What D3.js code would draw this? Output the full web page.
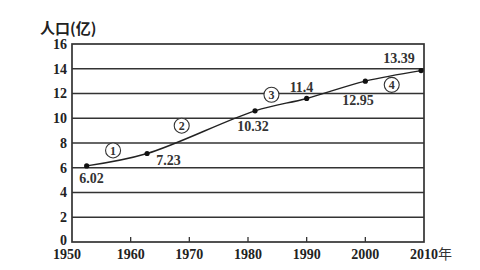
<!DOCTYPE html>
<html><head><meta charset="utf-8">
<script src="https://cdn.jsdelivr.net/npm/d3@7"></script>
<style>body{margin:0;background:#fff}svg{display:block}</style>
</head><body>
<svg id="c" width="480" height="270"></svg>
<script>
const years = [1952.5, 1962.8, 1981.2, 1990, 2000, 2009.5];
const values = [6.15, 7.15, 10.6, 11.6, 13.0, 13.85];
const labels = ["6.02", "7.23", "10.32", "11.4", "12.95", "13.39"];
const yTicks = [0, 2, 4, 6, 8, 10, 12, 14, 16];
const xTicks = [1950, 1960, 1970, 1980, 1990, 2000, 2010];
const stages = ["①", "②", "③", "④"];
const stageYears = [1957, 1968.7, 1984, 2004.5];
const stageVals = [7.4, 9.4, 11.9, 12.7];

const svg = d3.select("#c");
const L = 72, R = 424, T = 44, B = 242;
const x = d3.scaleLinear().domain([1950, 2010]).range([L, R]);
const y = d3.scaleLinear().domain([0, 16]).range([B, T]);
const serif = "'Liberation Serif','DejaVu Serif',serif";

// grid lines
svg.append("g").selectAll("line").data(yTicks.filter(d => d > 0 && d < 16)).join("line")
  .attr("x1", L).attr("x2", R).attr("y1", d => y(d)).attr("y2", d => y(d))
  .attr("stroke", "#333").attr("stroke-width", 1.6);
// frame
svg.append("rect").attr("x", L).attr("y", T).attr("width", R - L).attr("height", B - T)
  .attr("fill", "none").attr("stroke", "#333").attr("stroke-width", 1.7);

// x ticks (inward)
svg.append("g").selectAll("line").data(xTicks.slice(1, -1)).join("line")
  .attr("x1", d => x(d)).attr("x2", d => x(d)).attr("y1", B).attr("y2", B - 5)
  .attr("stroke", "#333").attr("stroke-width", 1.3);

// y tick labels
svg.append("g").selectAll("text").data(yTicks).join("text")
  .attr("x", 67).attr("y", d => d === 0 ? y(d) - 2 : y(d)).attr("dy", "0.35em").attr("text-anchor", "end")
  .attr("font-family", serif).attr("font-weight", "bold").attr("font-size", 14)
  .attr("fill", "#222").text(d => d);

// x tick labels
svg.append("g").selectAll("text").data(xTicks).join("text")
  .attr("x", d => d === 1950 ? x(d) - 5 : x(d)).attr("y", 259).attr("text-anchor", "middle")
  .attr("font-family", serif).attr("font-weight", "bold").attr("font-size", 14)
  .attr("fill", "#222").text(d => d);
svg.append("text").attr("x", x(2010) + 14).attr("y", 259)
  .attr("font-family", "'Noto Sans CJK SC',sans-serif").attr("font-size", 14)
  .attr("fill", "#333").text("年");

// y axis title
svg.append("text").attr("x", 40).attr("y", 34)
  .attr("font-family", "'Noto Sans CJK SC',sans-serif").attr("font-weight", "bold").attr("font-size", 15)
  .attr("fill", "#222").text("人口(亿)");

// curve
const pts = years.map((d, i) => [d, values[i]]);
svg.append("path").datum(pts)
  .attr("d", d3.line().x(d => x(d[0])).y(d => y(d[1])).curve(d3.curveCatmullRom.alpha(0.5)))
  .attr("fill", "none").attr("stroke", "#222").attr("stroke-width", 1.4);
svg.append("g").selectAll("circle").data(pts).join("circle")
  .attr("cx", d => x(d[0])).attr("cy", d => y(d[1])).attr("r", 2.6).attr("fill", "#111");

// value labels
const lblPos = [[91.5, 178], [168.5, 160], [253, 126], [301.5, 87], [358, 100], [399, 58.5]];
svg.append("g").selectAll("text").data(labels).join("text")
  .attr("x", (d, i) => lblPos[i][0]).attr("y", (d, i) => lblPos[i][1]).attr("dy", "0.35em")
  .attr("text-anchor", "middle").attr("font-family", serif).attr("font-size", 14)
  .attr("font-weight", "bold").attr("fill", "#333").text(d => d);

// stage markers
const sg = svg.append("g").selectAll("g").data(stages).join("g")
  .attr("transform", (d, i) => `translate(${x(stageYears[i])},${y(stageVals[i])})`);
sg.append("circle").attr("r", 7.5).attr("fill", "#fff").attr("stroke", "#333").attr("stroke-width", 1.1);
sg.append("text").attr("dy", "0.36em").attr("text-anchor", "middle")
  .attr("font-family", serif).attr("font-size", 12).attr("font-weight", "bold").attr("fill", "#333")
  .text((d, i) => i + 1);
</script>
</body></html>
